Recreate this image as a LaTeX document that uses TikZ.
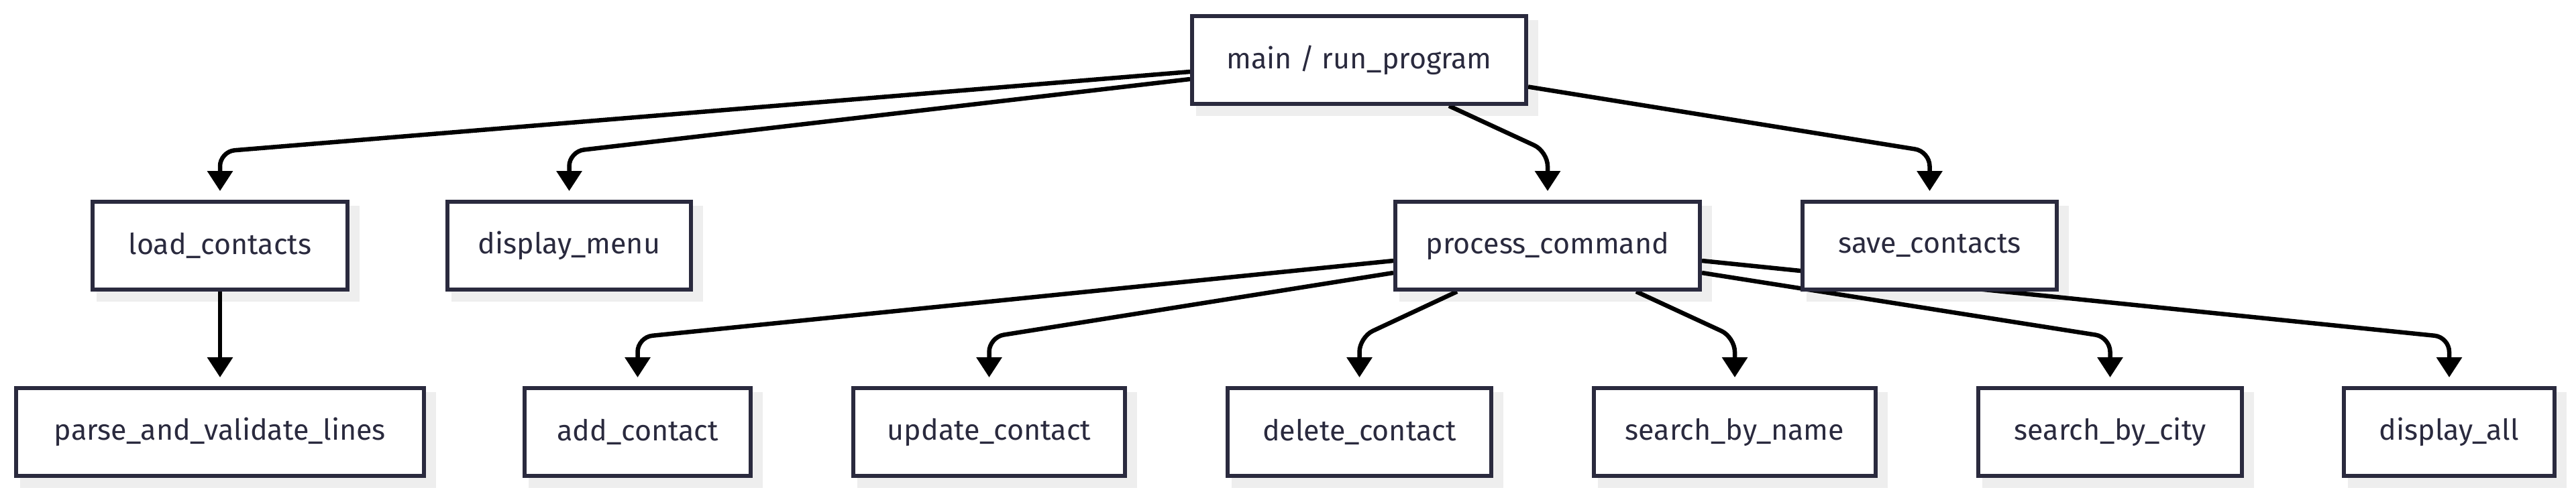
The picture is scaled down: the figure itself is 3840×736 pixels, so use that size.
\documentclass[tikz,border=0pt]{standalone}
\usepackage{fontspec}
\setmainfont{Fira Sans}
\usetikzlibrary{arrows.meta}
\definecolor{boxline}{RGB}{42,42,62}
\definecolor{txtc}{RGB}{42,42,62}
\definecolor{shade}{RGB}{238,238,238}
\pgfdeclarelayer{bglayer}
\pgfdeclarelayer{shadowlayer}
\pgfdeclarelayer{edgelayer}
\pgfsetlayers{bglayer,shadowlayer,edgelayer,main}
\begin{document}
\begin{tikzpicture}[x=1pt,y=-1pt,
  fn/.style={draw=boxline, line width=6pt, fill=white, text=txtc, minimum height=131pt, inner sep=0pt, font=\fontsize{43}{50}\selectfont},
  edge/.style={draw=black, line width=6.5pt, rounded corners=22pt, -{Triangle[length=30pt,width=37pt]}},
  shadowbox/.style={fill=shade}
]
\begin{pgfonlayer}{bglayer}
\fill[white] (0,0) rectangle (3840,736);
\end{pgfonlayer}
\useasboundingbox (0,0) rectangle (3840,736);
% row 1
\node[fn, minimum width=498pt] (main) at (2026,89.5) {main / run\_program};
% row 2
\node[fn, minimum width=380pt] (lc) at (328,366.5) {load\_contacts};
\node[fn, minimum width=363pt] (dm) at (848.5,366.5) {display\_menu};
\node[fn, minimum width=454pt] (pc) at (2307,366.5) {process\_command};
\node[fn, minimum width=379pt] (sc) at (2876.5,366.5) {save\_contacts};
% row 3
\node[fn, minimum width=608pt] (pv) at (328,644.5) {parse\_and\_validate\_lines};
\node[fn, minimum width=337pt] (ac) at (950.5,644.5) {add\_contact};
\node[fn, minimum width=405pt] (uc) at (1474.5,644.5) {update\_contact};
\node[fn, minimum width=393pt] (dc) at (2026.5,644.5) {delete\_contact};
\node[fn, minimum width=420pt] (sn) at (2586,644.5) {search\_by\_name};
\node[fn, minimum width=393pt] (sy) at (3145.5,644.5) {search\_by\_city};
\node[fn, minimum width=314pt] (da) at (3651,644.5) {display\_all};

\coordinate (r1) at (0,226);
\coordinate (r2) at (0,503);

\begin{pgfonlayer}{shadowlayer}
\foreach \n in {main,lc,dm,pc,sc,pv,ac,uc,dc,sn,sy,da}
  \fill[shadowbox] ([shift={(9,15)}]\n.south west) rectangle ([shift={(15,9)}]\n.north east);
\end{pgfonlayer}

\begin{pgfonlayer}{edgelayer}
\draw[edge] ([shift={(0,17.5)}]main.west) -- (lc.north |- r1) -- ([shift={(0,-13)}]lc.north);
\draw[edge] ([shift={(0,28.5)}]main.west) -- (dm.north |- r1) -- ([shift={(0,-13)}]dm.north);
\draw[edge] ([shift={(134,0)}]main.south) -- (pc.north |- r1) -- ([shift={(0,-13)}]pc.north);
\draw[edge] ([shift={(0,40)}]main.east) -- (sc.north |- r1) -- ([shift={(0,-13)}]sc.north);

\draw[edge] (lc.south) -- ([shift={(0,-13)}]pv.north);
\draw[edge] ([shift={(0,22.5)}]pc.west) -- (ac.north |- r2) -- ([shift={(0,-13)}]ac.north);
\draw[edge] ([shift={(0,40.5)}]pc.west) -- (uc.north |- r2) -- ([shift={(0,-13)}]uc.north);
\draw[edge] ([shift={(-135,0)}]pc.south) -- (dc.north |- r2) -- ([shift={(0,-13)}]dc.north);
\draw[edge] ([shift={(132,0)}]pc.south) -- (sn.north |- r2) -- ([shift={(0,-13)}]sn.north);
\draw[edge] ([shift={(0,40.5)}]pc.east) -- (sy.north |- r2) -- ([shift={(0,-13)}]sy.north);
\draw[edge] ([shift={(0,22.5)}]pc.east) -- (da.north |- r2) -- ([shift={(0,-13)}]da.north);
\end{pgfonlayer}
\end{tikzpicture}
\end{document}
